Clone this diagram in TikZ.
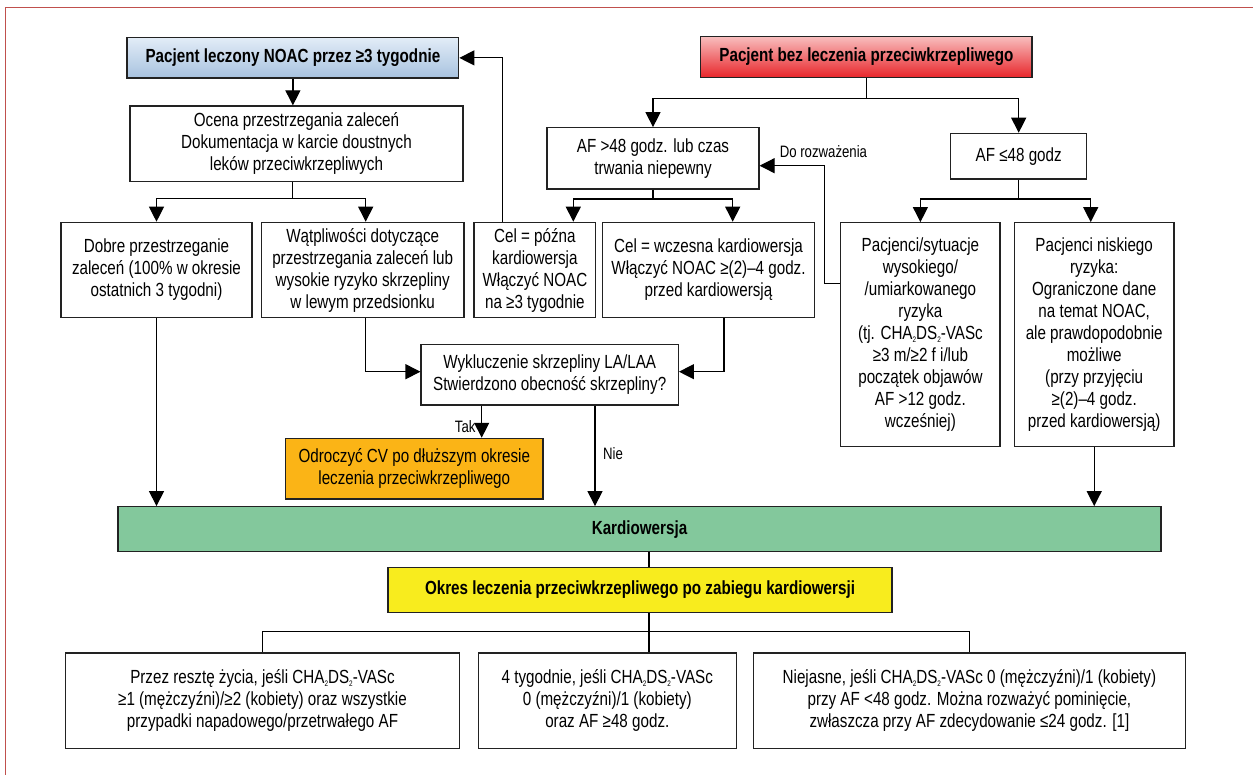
\documentclass[tikz,border=0pt]{standalone}
\usepackage{fontspec}
\setmainfont{Liberation Sans}[FakeStretch=0.80]
\usetikzlibrary{arrows.meta,calc}

\definecolor{framered}{HTML}{C0504D}
\definecolor{boxline}{HTML}{222222}
\definecolor{noactop}{HTML}{E2ECF7}
\definecolor{noacbot}{HTML}{A7C2DF}
\definecolor{beztop}{HTML}{F8BDBD}
\definecolor{bezbot}{HTML}{E8262B}
\definecolor{cvorange}{HTML}{FBB416}
\definecolor{cvgreen}{HTML}{83C89C}
\definecolor{cvyellow}{HTML}{F8EC1E}

\tikzset{
  box/.style={draw=boxline, line width=1.2pt, align=center, inner sep=2pt,
    font=\fontsize{19}{22}\selectfont},
  hdr/.style={box, font=\fontsize{19}{22}\selectfont\bfseries},
  arr/.style={line width=1.2pt, -{Triangle[length=15pt,width=15pt]}},
  conn/.style={line width=1.2pt},
  lbl/.style={font=\fontsize{16.5}{18}\selectfont, inner sep=0pt},
}
% small lowered index digit
\newcommand{\lowidx}[1]{\raisebox{-0.3ex}{\fontsize{8}{8}\selectfont #1}}
\newcommand{\chads}{CHA\lowidx{2}DS\lowidx{2}-VASc}

\begin{document}
\begin{tikzpicture}[x=1pt,y=-1pt]
\useasboundingbox (0,0) rectangle (1253,775);
\fill[white] (0,0) rectangle (1253,775);

% open frame: top and left edges only
\draw[framered, line width=1.8pt] (5.5,775) -- (5.5,7.5) -- (1253,7.5);

% --- top row ---
\node[hdr, minimum width=331.7pt, minimum height=40.3pt,
      top color=noactop, bottom color=noacbot] (noac) at (292.9,57.9)
  {Pacjent leczony NOAC przez ≥3 tygodnie};
\node[hdr, minimum width=331.3pt, minimum height=40.6pt,
      top color=beztop, bottom color=bezbot] (bez) at (866.4,57)
  {Pacjent bez leczenia przeciwkrzepliwego};

\node[box, minimum width=333pt, minimum height=75.7pt] (ocena) at (296.5,143.8)
  {Ocena przestrzegania zaleceń\\Dokumentacja w karcie doustnych\\leków przeciwkrzepliwych};
\node[box, minimum width=212pt, minimum height=61.3pt] (af48) at (653,158.4)
  {AF >48 godz. lub czas\\trwania niepewny};
\node[box, minimum width=136pt, minimum height=45.7pt] (afle) at (1018.7,156.2)
  {AF ≤48 godz};

% --- second row ---
\node[box, minimum width=191pt, minimum height=95.4pt] (dobre) at (156.5,270)
  {Dobre przestrzeganie\\zaleceń (100\% w okresie\\ostatnich 3 tygodni)};
\node[box, minimum width=202.7pt, minimum height=95.4pt] (watpl) at (362.7,270)
  {Wątpliwości dotyczące\\przestrzegania zaleceń lub\\wysokie ryzyko skrzepliny\\w lewym przedsionku};
\node[box, minimum width=121.7pt, minimum height=95.4pt] (pozna) at (534.9,270)
  {Cel = późna\\kardiowersja\\Włączyć NOAC\\na ≥3 tygodnie};
\node[box, minimum width=211.6pt, minimum height=95.4pt] (wczesna) at (708.5,270)
  {Cel = wczesna kardiowersja\\Włączyć NOAC ≥(2)–4 godz.\\przed kardiowersją};
\node[box, minimum width=159.3pt, minimum height=224pt] (wysokie) at (920.4,334.7)
  {Pacjenci/sytuacje\\wysokiego/\\/umiarkowanego\\ryzyka\\(tj. \chads\\≥3 m/≥2 f i/lub\\początek objawów\\AF >12 godz.\\wcześniej)};
\node[box, minimum width=159.7pt, minimum height=224pt] (niskie) at (1094.2,334.7)
  {Pacjenci niskiego\\ryzyka:\\Ograniczone dane\\na temat NOAC,\\ale prawdopodobnie\\możliwe\\(przy przyjęciu\\≥(2)–4 godz.\\przed kardiowersją)};

% --- thrombus check ---
\node[box, minimum width=257.3pt, minimum height=60.7pt] (wyklucz) at (549.7,374.7)
  {Wykluczenie skrzepliny LA/LAA\\Stwierdzono obecność skrzepliny?};
\node[box, minimum width=257.4pt, minimum height=60.7pt, fill=cvorange] (odrocz) at (414.3,468.7)
  {Odroczyć CV po dłuższym okresie\\leczenia przeciwkrzepliwego};

% --- cardioversion and follow-up ---
\node[hdr, minimum width=1043pt, minimum height=45pt, fill=cvgreen] (kardio) at (639.5,529.2)
  {Kardiowersja};
\node[hdr, minimum width=504pt, minimum height=45.4pt, fill=cvyellow] (okres) at (640,590)
  {Okres leczenia przeciwkrzepliwego po zabiegu kardiowersji};

\node[box, minimum width=394.3pt, minimum height=95.7pt] (b1) at (262.5,700.8)
  {Przez resztę życia, jeśli \chads\\≥1 (mężczyźni)/≥2 (kobiety) oraz wszystkie\\przypadki napadowego/przetrwałego AF};
\node[box, minimum width=258pt, minimum height=95.7pt] (b2) at (607.3,700.8)
  {4 tygodnie, jeśli \chads\\0 (mężczyźni)/1 (kobiety)\\oraz AF ≥48 godz.};
\node[box, minimum width=431.6pt, minimum height=95.7pt] (b3) at (969.4,700.8)
  {Niejasne, jeśli \chads{} 0 (mężczyźni)/1 (kobiety)\\przy AF <48 godz. Można rozważyć pominięcie,\\zwłaszcza przy AF zdecydowanie ≤24 godz. [1]};

% --- connectors ---
\path (bez.south) ++(0,21) coordinate (jb);
\draw[conn] (bez.south) -- (jb);
\draw[arr] (jb) -| (af48.north);
\draw[arr] (jb) -| (afle.north);

\draw[arr] (noac.south) -- (noac.south |- ocena.north);

\path (ocena.south) ++(-3.8,16.6) coordinate (jo);
\draw[conn] (ocena.south -| jo) -- (jo);
\draw[arr] (jo) -| (dobre.north);
\draw[arr] (jo) -| ($(watpl.north)+(3,0)$);

\path (af48.south) ++(0,9.3) coordinate (ja);
\draw[conn] (af48.south) -- (ja);
\draw[arr] (ja) -| ($(pozna.north)+(38.4,0)$);
\draw[arr] (ja) -| ($(wczesna.north)+(24.2,0)$);

\path (afle.south) ++(0,19.3) coordinate (jl);
\draw[conn] (afle.south) -- (jl);
\draw[arr] (jl) -| (wysokie.north);
\draw[arr] (jl) -| ($(niskie.north)+(-3.5,0)$);

% back to the NOAC patient path
\draw[arr] ($(pozna.north)+(-32.2,0)$) |- (noac.east);
% optional route from high-risk patients
\draw[arr] ($(wysokie.north west)+(0,61.6)$) -- ++(-16,0) |- ($(af48.east)+(0,7.3)$);
\node[lbl, anchor=west] (dorozw) at ($(af48.east)+(20,-6.4)$) {Do rozważenia};

\draw[arr] ($(watpl.south)+(3,0)$) |- ($(wyklucz.west)+(0,-3)$);
\draw[arr] ($(wczesna.south)+(15.5,0)$) |- ($(wyklucz.east)+(0,-3)$);

\path ($(wyklucz.south)+(-68,0)$) coordinate (tak0);
\draw[arr] (tak0) -- (tak0 |- odrocz.north);
\node[lbl, anchor=east] (tak) at ($(tak0)+(-6,21)$) {Tak};

\path ($(wyklucz.south)+(45.3,0)$) coordinate (nie0);
\draw[arr] (nie0) -- (nie0 |- kardio.north);
\node[lbl, anchor=west] (nie) at ($(nie0)+(8,48.3)$) {Nie};

\draw[arr] (dobre.south) -- (dobre.south |- kardio.north);
\draw[arr] (niskie.south) -- (niskie.south |- kardio.north);

% from cardioversion to the follow-up options
\path ($(okres.north)+(9,0)$) coordinate (ko);
\draw[conn] (ko |- kardio.south) -- (ko);
\path ($(okres.south)+(9,18)$) coordinate (jk);
\draw[conn] (ko |- okres.south) -- (ko |- b2.north);
\draw[conn] (b1.north) |- (jk) -| (b3.north);
\end{tikzpicture}
\end{document}
